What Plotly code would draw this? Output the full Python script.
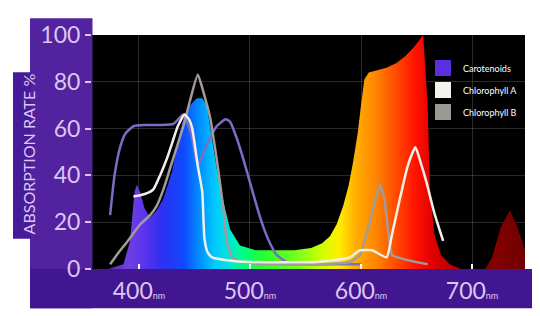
import plotly.graph_objects as go

# ---------------- data ----------------
spec_nm = [372, 386, 392, 396, 398, 401, 405, 410, 416, 422, 430, 436, 441, 446, 452, 457,
           461, 466, 470, 476, 482, 491, 505, 520, 540, 555, 565, 572, 578, 584, 589, 593,
           597, 600, 603, 607, 615, 623, 632, 640, 648, 656, 660, 662, 666, 672, 680, 690,
           712, 718, 726, 734, 740, 746, 750]
spec_val = [0, 2, 12, 33, 36, 33, 26, 22, 25, 30, 42, 57, 66, 70, 73, 73,
            70, 56, 43, 29, 17, 10, 8, 8, 8, 9, 11, 14, 19, 27, 36, 46,
            58, 70, 81, 84, 85, 86, 88, 91, 95, 100, 70, 35, 15, 6, 2, 0,
            0, 5, 18, 25, 19, 10, 5]

car_nm = [374, 378, 383, 388, 395, 405, 420, 431, 440, 447, 453, 460, 470, 478, 482, 488,
          494, 500, 506, 512, 518, 524, 533, 550, 580, 600]
car_val = [23, 40, 52, 58, 61, 61.5, 61.5, 62, 66, 58, 44, 52, 61, 64, 63, 56,
           47, 37, 27, 18, 11, 6, 3, 2, 2, 2]

chla_nm = [395, 401, 408, 413, 419, 425, 430, 435, 441, 445, 448, 453, 457, 459, 462, 466,
           476, 500, 560, 590, 599, 610, 623, 628, 635, 642, 649, 654, 659, 666, 674]
chla_val = [31, 31.5, 32.5, 34, 40, 47, 54, 61, 66, 64, 60, 44, 33, 13, 7, 5,
            4, 3, 3, 5, 8, 8, 5, 15, 30, 44, 52, 45, 37, 24, 12]

chlb_nm = [374, 380, 390, 401, 410, 416, 422, 428, 434, 440, 446, 453, 459, 464, 470, 476,
           479, 484, 492, 520, 560, 590, 599, 605, 612, 617, 621, 625, 628, 640, 660]
chlb_val = [2, 6, 12, 19, 23, 27, 34, 43, 52, 61, 72, 83, 74, 65, 47, 26,
            12, 5, 3, 2, 2, 3, 6, 15, 28, 36, 30, 14, 6, 4, 2]

legend_names = ["Carotenoids", "Chlorophyll A", "Chlorophyll B"]
legend_colors = ["#5b2fe0", "#f4f2ee", "#9c9894"]
line_colors = ["#7d6cc6", "#f2f0e6", "#a29c98"]

x_tickvals = [400, 500, 600, 700]
x_ticklabels = ["400", "500", "600", "700"]
y_tickvals = [0, 20, 40, 60, 80, 100]
y_ticklabels = ["0", "20", "40", "60", "80", "100"]

# spectrum colour stops (wavelength, colour)
grad_nm = [360, 390, 405, 420, 440, 455, 468, 480, 495, 510, 540, 565, 580, 595, 615, 635, 650, 665, 700, 750]
grad_col = ["#4a1a8a", "#7040e0", "#5a34ee", "#3030f0", "#1048ff", "#0090ff", "#00c8ff", "#00e4e0",
            "#00ff80", "#20ff30", "#70ff20", "#d0ff00", "#ffee00", "#ffb000", "#ff8000", "#ff4000",
            "#ff1000", "#e00000", "#900000", "#700000"]

# ---------------- figure ----------------
OFF = 8                      # page body margin of the html page
W, H = 540 - OFF, 316 - OFF
L, R, T, B = 92 - OFF, 15, 32 - OFF, 45
pw, ph = W - L - R, H - T - B


def px(x):
    """page pixel x -> paper"""
    return (x - OFF - L) / pw


def py(y):
    """page pixel y -> paper"""
    return (H - B - (y - OFF)) / ph


g0, g1 = grad_nm[0], grad_nm[-1]
colorscale = [[(g - g0) / (g1 - g0), c] for g, c in zip(grad_nm, grad_col)]

fig = go.Figure()

fig.add_trace(go.Scatter(
    x=spec_nm, y=spec_val, mode="lines", line=dict(width=0),
    fill="tozeroy",
    fillgradient=dict(type="horizontal", colorscale=colorscale, start=g0, stop=g1),
    showlegend=False, hoverinfo="skip"))

for xs, ys, col in [(car_nm, car_val, line_colors[0]),
                    (chlb_nm, chlb_val, line_colors[2]),
                    (chla_nm, chla_val, line_colors[1])]:
    fig.add_trace(go.Scatter(x=xs, y=ys, mode="lines",
                             line=dict(color=col, width=2.5, shape="spline", smoothing=0.5),
                             showlegend=False))

for i, (name, col) in enumerate(zip(legend_names, legend_colors)):
    fig.add_trace(go.Scatter(x=[None], y=[None], mode="markers", name=name,
                             legendgroup=f"g{i}",
                             marker=dict(symbol="square", size=16, color=col)))

shapes = [
    dict(type="rect", xref="paper", yref="paper", x0=px(30), x1=px(92.5), y0=py(311), y1=py(15),
         fillcolor="#52229f", line_width=0, layer="below"),
    dict(type="rect", xref="paper", yref="paper", x0=px(13), x1=px(31), y0=py(240), y1=py(70),
         fillcolor="#461a98", line_width=0, layer="below"),
    dict(type="rect", xref="paper", yref="paper", x0=px(30), x1=px(548), y0=py(311), y1=py(271),
         fillcolor="#421690", line_width=0, layer="below"),
]

tick_col = "#dcc6f0"
fig.update_layout(
    width=W, height=H,
    margin=dict(l=L, r=R, t=T, b=B, pad=0),
    paper_bgcolor="white", plot_bgcolor="black",
    shapes=shapes,
    font=dict(family="Lato", color=tick_col),
    legend=dict(x=px(423), y=py(51), xanchor="left", yanchor="top",
                bgcolor="rgba(0,0,0,0)", font=dict(family="Lato", size=9, color="white"),
                traceorder="grouped", tracegroupgap=3, itemsizing="trace"),
    annotations=[dict(text="ABSORPTION RATE %", xref="paper", yref="paper",
                      x=px(28), y=py(154), xanchor="center", yanchor="middle",
                      textangle=-90, showarrow=False,
                      font=dict(family="Lato", size=16, color=tick_col))],
)

fig.update_xaxes(range=[357.7, 747.7], tickvals=x_tickvals,
                 ticktext=[f"{t}<span style='font-size:9px'>nm</span>" for t in x_ticklabels],
                 ticks="inside", ticklen=5, tickwidth=2, tickcolor="white",
                 ticklabelstandoff=6,
                 tickfont=dict(family="Lato", size=23, color=tick_col),
                 showgrid=True, gridcolor="rgba(255,255,255,0.16)", gridwidth=1,
                 zeroline=False, showline=False)
fig.update_yaxes(range=[0, 100], tickvals=y_tickvals, ticktext=y_ticklabels,
                 ticks="outside", ticklen=6, tickwidth=2, tickcolor=tick_col,
                 tickfont=dict(family="Lato", size=23, color=tick_col),
                 showgrid=True, gridcolor="rgba(255,255,255,0.16)", gridwidth=1,
                 zeroline=False, showline=False)

fig.write_html("out.html")
